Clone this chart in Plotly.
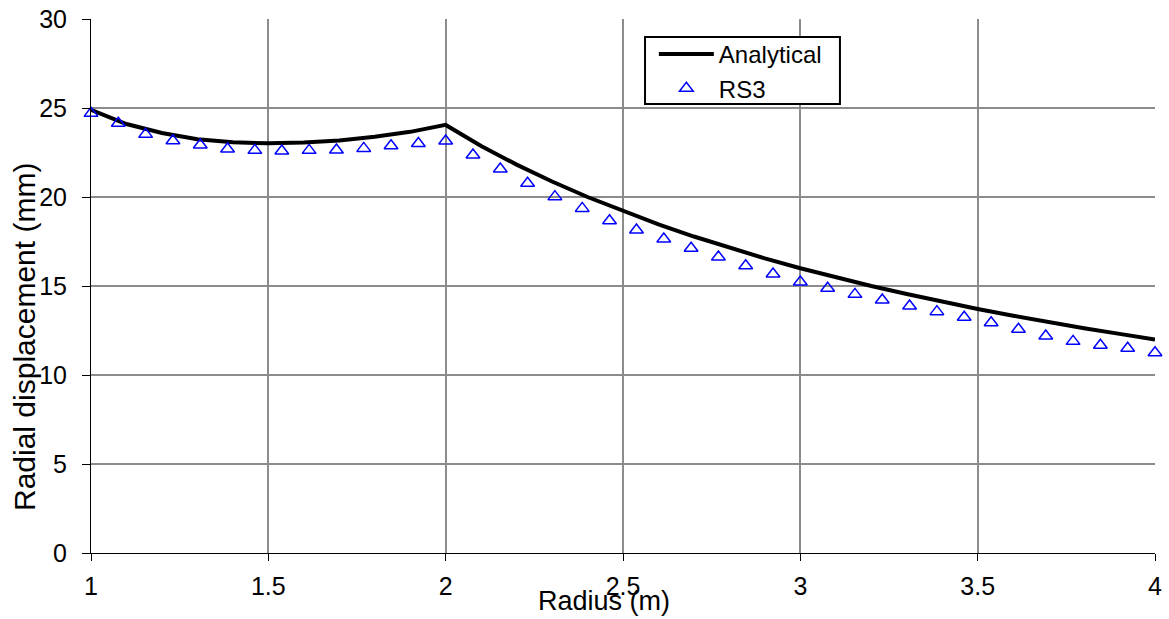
import plotly.graph_objects as go

# Analytical solution (sampled every 0.1 m)
r_analytical = [1.0, 1.1, 1.2, 1.3, 1.4, 1.5, 1.6, 1.7, 1.8, 1.9, 2.0,
                2.1, 2.2, 2.3, 2.4, 2.5, 2.6, 2.7, 2.8, 2.9, 3.0,
                3.1, 3.2, 3.3, 3.4, 3.5, 3.6, 3.7, 3.8, 3.9, 4.0]
u_analytical = [24.9, 24.1, 23.6, 23.25, 23.07, 23.02, 23.06, 23.18, 23.38, 23.66, 24.05,
                22.86, 21.82, 20.87, 20.0, 19.2, 18.46, 17.78, 17.14, 16.55, 16.0,
                15.48, 15.0, 14.55, 14.12, 13.71, 13.33, 12.97, 12.63, 12.31, 12.0]

# RS3 numerical results (40 nodes between 1 m and 4 m)
r_rs3 = [1.0, 1.077, 1.154, 1.231, 1.308, 1.385, 1.462, 1.538, 1.615, 1.692,
         1.769, 1.846, 1.923, 2.0, 2.077, 2.154, 2.231, 2.308, 2.385, 2.462,
         2.538, 2.615, 2.692, 2.769, 2.846, 2.923, 3.0, 3.077, 3.154, 3.231,
         3.308, 3.385, 3.462, 3.538, 3.615, 3.692, 3.769, 3.846, 3.923, 4.0]
u_rs3 = [24.70, 24.14, 23.52, 23.16, 22.92, 22.70, 22.62, 22.58, 22.62, 22.64,
         22.73, 22.88, 23.01, 23.15, 22.36, 21.57, 20.77, 20.02, 19.36, 18.67,
         18.15, 17.64, 17.12, 16.63, 16.14, 15.67, 15.22, 14.87, 14.53, 14.21,
         13.88, 13.56, 13.24, 12.94, 12.57, 12.19, 11.89, 11.67, 11.50, 11.25]

x_ticks = [1, 1.5, 2, 2.5, 3, 3.5, 4]
x_tick_labels = ["1", "1.5", "2", "2.5", "3", "3.5", "4"]
y_ticks = [0, 5, 10, 15, 20, 25, 30]

FONT = "Liberation Sans, Arial, sans-serif"

fig = go.Figure()
fig.add_trace(go.Scatter(
    x=r_analytical, y=u_analytical, mode="lines", name="Analytical",
    line=dict(color="black", width=4),
))
fig.add_trace(go.Scatter(
    x=r_rs3, y=u_rs3, mode="markers", name="RS3", cliponaxis=False,
    marker=dict(symbol="triangle-up-open", size=12, color="#0000ff",
                line=dict(color="#0000ff", width=1.5)),
))

fig.update_layout(
    width=1169, height=619,
    margin=dict(l=91, r=14, t=19, b=66),
    paper_bgcolor="white", plot_bgcolor="white",
    font=dict(family=FONT, size=25, color="black"),
    showlegend=True,
    legend=dict(
        x=0.529, y=0.9757, xanchor="left", yanchor="top",
        bgcolor="rgba(0,0,0,0)", borderwidth=0,
        font=dict(family=FONT, size=24, color="black"),
        itemwidth=55, tracegroupgap=0,
    ),
    xaxis=dict(
        range=[1, 4], tickmode="array", tickvals=x_ticks, ticktext=x_tick_labels,
        showgrid=True, gridcolor="#8c8c8c", gridwidth=2,
        showline=True, linecolor="black", linewidth=1,
        ticks="outside", ticklen=7, tickcolor="black",
        zeroline=False, tickfont=dict(size=25), automargin=False,
        ticklabelstandoff=4,
    ),
    yaxis=dict(
        range=[0, 30], tickmode="array", tickvals=y_ticks,
        showgrid=True, gridcolor="#8c8c8c", gridwidth=2,
        showline=True, linecolor="black", linewidth=1,
        ticks="outside", ticklen=8, tickcolor="black",
        zeroline=False, tickfont=dict(size=25), automargin=False,
        ticklabelstandoff=10,
    ),
    # legend frame
    shapes=[
        dict(type="rect", xref="paper", yref="paper",
             x0=0.5207, x1=0.7039, y0=0.8408, y1=0.9663,
             line=dict(color="black", width=2), fillcolor="white", layer="above"),
    ],
    annotations=[
        dict(text="Radius (m)", xref="paper", yref="paper", x=0.482, y=-0.0899,
             xanchor="center", yanchor="middle", showarrow=False,
             font=dict(family=FONT, size=27, color="black")),
        dict(text="Radial displacement (mm)", xref="paper", yref="paper",
             x=-0.062, y=0.4045, xanchor="center", yanchor="middle",
             textangle=-90, showarrow=False,
             font=dict(family=FONT, size=30, color="black")),
    ],
)

fig.write_html("out.html")
